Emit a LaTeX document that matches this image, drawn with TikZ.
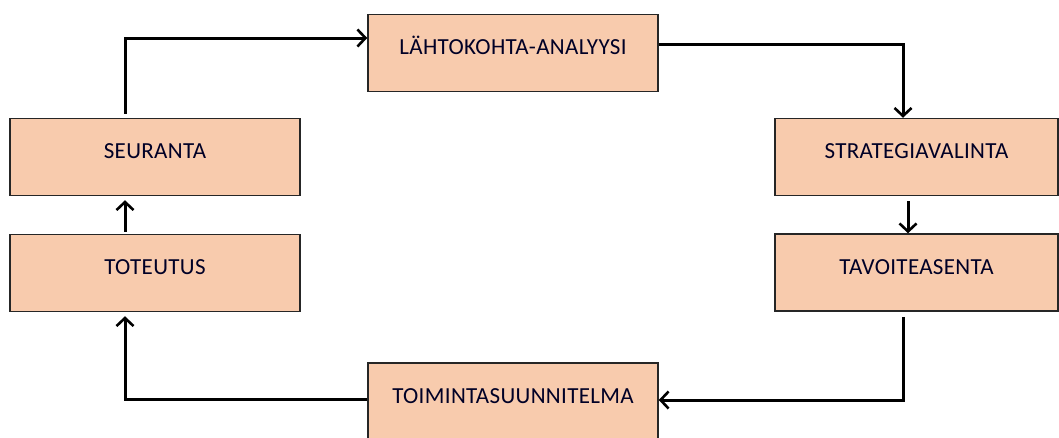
\documentclass[tikz,border=0pt]{standalone}
\usepackage{fontspec}
\setmainfont{Carlito}[LetterSpace=1.5]
\usetikzlibrary{arrows.meta,calc}
\definecolor{peach}{HTML}{F8CBAD}
\definecolor{edge}{HTML}{262626}
\tikzset{
  box/.style={draw=edge, line width=1.5pt, fill=peach, minimum width=290pt,
    inner xsep=0pt, inner ysep=0pt, text height=40pt, text depth=37pt,
    font=\fontsize{23pt}{26pt}\selectfont, text=black!85!blue},
  conn/.style={line width=3pt, draw=black, line cap=butt, line join=miter},
  tip/.style={-{Straight Barb[length=8pt,width=17pt,line width=2.6pt]}}
}
\begin{document}
\begin{tikzpicture}[x=1pt,y=-1pt]
\useasboundingbox (0,0) rectangle (1059,437);
\clip (0,0) rectangle (1059,437);
\node[box] (lahto) at (513,53) {LÄHTOKOHTA-ANALYYSI};
\node[box, minimum width=283pt] (strat) at (916.5,157) {STRATEGIAVALINTA};
\node[box, minimum width=283pt] (tavo) at (916.5,272.5) {TAVOITEASENTA};
\node[box] (toim) at (513,401.5) {TOIMINTASUUNNITELMA};
\node[box] (seur) at (155,157) {SEURANTA};
\node[box] (tote) at (155,273) {TOTEUTUS};

\coordinate (a1) at ($(seur.north)+(-30,-4)$);
\coordinate (a2) at ($(lahto.west)+(0,-15)$);
\draw[conn,tip] (a1) |- (a2);

\coordinate (b1) at ($(lahto.east)+(0,-9)$);
\coordinate (b2) at ($(strat.north)+(-13.5,0)$);
\draw[conn,tip] (b1) -| (b2);

\coordinate (c1) at ($(strat.south)+(-8.5,5)$);
\coordinate (c2) at ($(tavo.north)+(-8.5,0)$);
\draw[conn,tip] (c1) -- (c2);

\coordinate (d1) at ($(tavo.south)+(-13.5,5)$);
\coordinate (d2) at ($(toim.east)+(0,-1.5)$);
\draw[conn,tip] (d1) |- (d2);

\coordinate (e1) at ($(toim.west)+(0,-2.5)$);
\coordinate (e2) at ($(tote.south)+(-30,4)$);
\draw[conn,tip] (e1) -| (e2);

\coordinate (f1) at ($(tote.north)+(-30,-2)$);
\coordinate (f2) at ($(seur.south)+(-30,4)$);
\draw[conn,tip] (f1) -- (f2);
\end{tikzpicture}
\end{document}
